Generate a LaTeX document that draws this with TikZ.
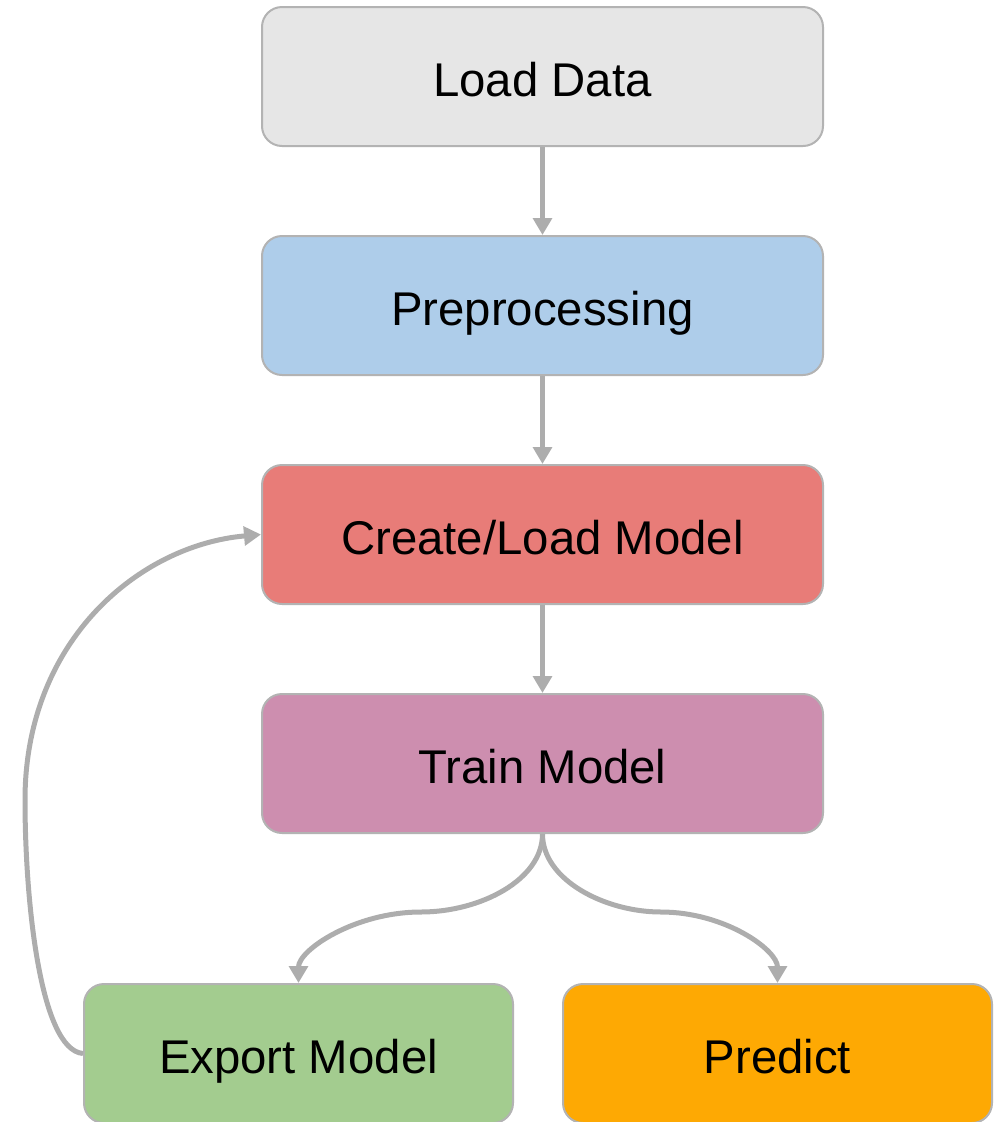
\documentclass[tikz,border=0pt]{standalone}
\usepackage{fontspec}
\setmainfont{Liberation Sans}
\usetikzlibrary{arrows.meta}
\definecolor{bordergray}{HTML}{B3B3B3}
\definecolor{arrowgray}{HTML}{ADADAD}
\definecolor{cload}{HTML}{E6E6E6}
\definecolor{cprep}{HTML}{AECDEA}
\definecolor{ccreate}{HTML}{E87C78}
\definecolor{ctrain}{HTML}{CD8EAF}
\definecolor{cexport}{HTML}{A3CC8F}
\definecolor{cpredict}{HTML}{FEA903}
\tikzset{
  box/.style={draw=bordergray, line width=1.5pt, rounded corners=15pt,
    minimum width=420.75pt, minimum height=104.25pt, inner sep=0pt,
    font=\fontsize{35.5}{42}\selectfont, text=black,
    text height=30.2pt, text depth=0pt},
  smallbox/.style={box, minimum width=321.75pt},
  conn/.style={draw=arrowgray, line width=3.75pt,
    -{Triangle[length=12.75pt,width=14pt]}}
}
\begin{document}
\begin{tikzpicture}[x=0.75pt,y=-0.75pt]
\useasboundingbox (0,0) rectangle (1004,1122);
\node[box, fill=cload] (load) at (542.5,76.5) {Load Data};
\node[box, fill=cprep] (prep) at (542.5,305.5) {Preprocessing};
\node[box, fill=ccreate] (create) at (542.5,534.5) {Create/Load Model};
\node[box, fill=ctrain] (train) at (542.5,763.5) {Train Model};
\node[smallbox, fill=cexport] (export) at (298.5,1053.5) {Export Model};
\node[smallbox, fill=cpredict] (predict) at (777.5,1053.5) {Predict};
\coordinate (lmid) at (421,912);
\coordinate (rmid) at (661,912);
\coordinate (loopmid) at (25,800);

\draw[conn] (load.south) -- (prep.north);
\draw[conn] (prep.south) -- (create.north);
\draw[conn] (create.south) -- (train.north);
\draw[conn] (train.south) .. controls (542.5,880) and (480,912) .. (lmid)
  .. controls (355,912) and (298.5,950) .. (export.north);
\draw[conn] (train.south) .. controls (542.5,880) and (605,912) .. (rmid)
  .. controls (725,912) and (777.5,950) .. (predict.north);
\draw[conn] (export.west) .. controls (40,1050) and (25,900) .. (loopmid)
  .. controls (25,640) and (140,545) .. (create.west);
\end{tikzpicture}
\end{document}
